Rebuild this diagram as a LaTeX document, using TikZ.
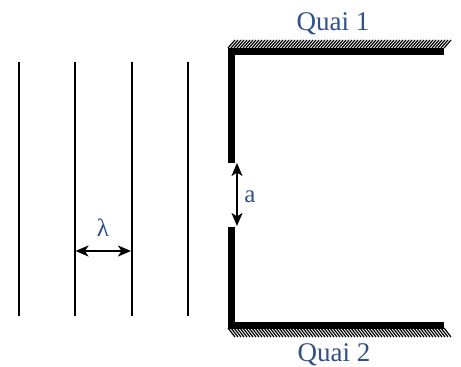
\documentclass[tikz,border=0pt]{standalone}
\usepackage{fontspec}
\setmainfont{Liberation Serif}
\usetikzlibrary{arrows.meta}
\definecolor{labelblue}{HTML}{2F5088}
\tikzset{
  wave/.style={draw=black,line width=2pt},
  wall/.style={draw=black,line width=7pt},
  dimarrow/.style={draw=black,line width=2pt,{Stealth[length=13pt,width=11pt,inset=3.5pt]}-{Stealth[length=13pt,width=11pt,inset=3.5pt]}},
  hatchline/.style={draw=black,line width=1.2pt},
  lab/.style={text=labelblue,inner sep=0pt}
}
\begin{document}
\begin{tikzpicture}[x=1pt,y=-1pt]
\useasboundingbox (0,0) rectangle (461,367);
\fill[white] (0,0) rectangle (461,367);
% waves
\foreach \x/\n in {18.5/a,75/b,131.5/c,188/d}{
  \coordinate (t\n) at (\x,62);
  \coordinate (u\n) at (\x,316);
  \draw[wave] (t\n) -- (u\n);
}
% hatching
\foreach \i in {0,...,72}{
  \draw[hatchline] ({228+3*\i},48) -- ({228+3*\i+7},40);
  \draw[hatchline] ({228+3*\i},328) -- ({228+3*\i+7},337);
}
% walls
\draw[wall,line cap=butt,line join=miter] (444,51.5) -- (231,51.5) -- (231,163);
\draw[wall,line cap=butt,line join=miter] (231,227) -- (231,325) -- (444,325);
% dimension arrows
\coordinate (aT) at (237,163);
\coordinate (aB) at (237,226);
\draw[dimarrow] (aT) -- (aB);
\coordinate (lL) at (75.5,251);
\coordinate (lR) at (131,251);
\draw[dimarrow] (lL) -- (lR);
% labels
\node[lab,font=\fontsize{27}{27}\selectfont] (q1) at (333,24) {Quai 1};
\node[lab,font=\fontsize{27}{27}\selectfont] (q2) at (334,355) {Quai 2};
\node[lab,font=\fontsize{25}{25}\selectfont] (la) at (250,197) {a};
\node[lab,font=\fontsize{25}{25}\selectfont] (ll) at (103,228) {λ};
\end{tikzpicture}
\end{document}
